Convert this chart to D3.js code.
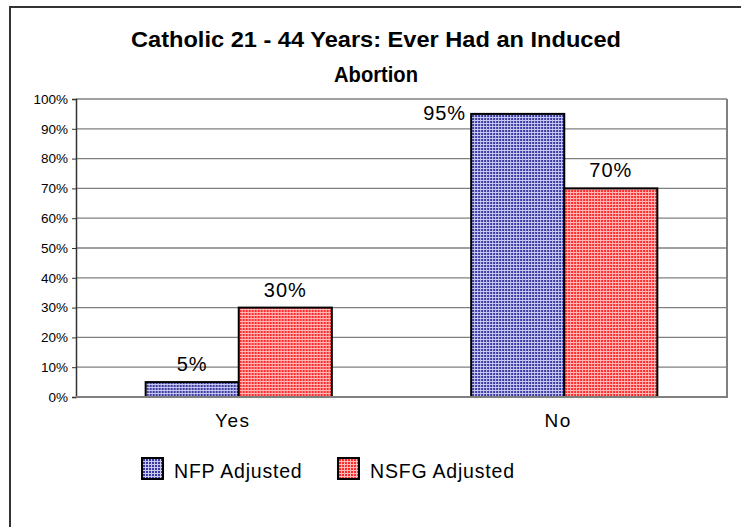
<!DOCTYPE html>
<html><head><meta charset="utf-8">
<script src="https://cdn.jsdelivr.net/npm/d3@7"></script>
<style>body{margin:0;background:#fff}svg{display:block}text{font-family:"Liberation Sans",Arial,sans-serif}</style>
</head><body>
<script>
const categories = ["Yes", "No"];
const seriesNames = ["NFP Adjusted", "NSFG Adjusted"];
const nfpValues = [5, 95];
const nsfgValues = [30, 70];
const yTicks = [0,10,20,30,40,50,60,70,80,90,100];
const titleLines = ["Catholic 21 - 44 Years: Ever Had an Induced", "Abortion"];

const W = 741, H = 527;
const svg = d3.select("body").append("svg").attr("width", W).attr("height", H);
const defs = svg.append("defs");
function pat(id, base, line){
  const p = defs.append("pattern").attr("id", id).attr("patternUnits","userSpaceOnUse")
    .attr("width",3).attr("height",3);
  p.append("rect").attr("width",3).attr("height",3).attr("fill",base);
  p.append("rect").attr("width",3).attr("height",1).attr("fill",line);
  p.append("rect").attr("width",1).attr("height",3).attr("fill",line);
}
pat("pBlue", "#3A3AA0", "#C8C8F2");
pat("pRed", "#FF2A2A", "#FFB8B8");
const fills = ["url(#pBlue)", "url(#pRed)"];

// outer border
svg.append("rect").attr("x",10).attr("y",7).attr("width",W).attr("height",H)
  .attr("fill","none").attr("stroke","#333").attr("stroke-width",2);

// title
const tt = svg.append("text").attr("text-anchor","middle")
  .attr("font-weight","bold").attr("font-size",22).attr("fill","#000");
tt.selectAll("tspan").data(titleLines).join("tspan")
  .attr("x",376).attr("y",(d,i)=>47+i*35).text(d=>d)
  .attr("textLength",(d,i)=>i===0?490:84)
  .attr("lengthAdjust","spacingAndGlyphs");

const L = 76, R = 727, T = 99, B = 397;
const y = d3.scaleLinear().domain([0,100]).range([B,T]);
const x0 = d3.scaleBand().domain(categories).range([L,R]).paddingInner(0).paddingOuter(0);
const groupW = x0.bandwidth()*0.572;
const x1 = d3.scaleBand().domain(seriesNames).range([0,groupW]);

const g = svg.append("g");
g.selectAll("line.grid").data(yTicks).join("line").attr("class","grid")
  .attr("x1",L).attr("x2",R).attr("y1",d=>y(d)).attr("y2",d=>y(d))
  .attr("stroke","#808080").attr("stroke-width",1.3);
g.append("line").attr("x1",R).attr("x2",R).attr("y1",T).attr("y2",B).attr("stroke","#808080").attr("stroke-width",2);

// y axis
const yAxis = d3.axisLeft(y).tickValues(yTicks).tickFormat(d=>d+"%").tickSize(4).tickPadding(4);
const ya = svg.append("g").attr("transform",`translate(${L},0)`).call(yAxis);
ya.select(".domain").attr("stroke","#333").attr("stroke-width",1.5);
ya.selectAll(".tick line").attr("stroke","#333");
ya.selectAll(".tick text").attr("font-size",13.5).attr("font-family",'"Liberation Sans",Arial,sans-serif').attr("fill","#000");

// x labels
svg.selectAll("text.xl").data(categories).join("text").attr("class","xl")
  .attr("x",d=>x0(d)+x0.bandwidth()/2-6).attr("y",427).attr("text-anchor","middle")
  .attr("font-size",19).attr("letter-spacing",1.5).text(d=>d);

// bars
const rows = categories.map((c,i)=>({cat:c, vals:[nfpValues[i], nsfgValues[i]]}));
const groups = svg.selectAll("g.grp").data(rows).join("g").attr("class","grp")
  .attr("transform",d=>`translate(${x0(d.cat)+(x0.bandwidth()-groupW)/2},0)`);
groups.selectAll("rect").data(d=>d.vals.map((v,j)=>({v,j}))).join("rect")
  .attr("x",d=>x1(seriesNames[d.j])).attr("width",x1.bandwidth())
  .attr("y",d=>y(d.v)).attr("height",d=>B-y(d.v))
  .attr("fill",d=>fills[d.j]).attr("stroke","#000").attr("stroke-width",2);
svg.append("line").attr("x1",L).attr("x2",R+1).attr("y1",B).attr("y2",B).attr("stroke","#808080").attr("stroke-width",2);

// data labels
groups.selectAll("text").data(d=>d.vals.map((v,j)=>({v,j}))).join("text")
  .attr("font-size",20).attr("letter-spacing",1).attr("fill","#000")
  .each(function(d){
    const bx = x1(seriesNames[d.j]), by = y(d.v);
    const t = d3.select(this).text(d.v+"%");
    if (by - 30 < T) {
      t.attr("x",bx-5).attr("y",by+6).attr("text-anchor","end");
    } else {
      t.attr("x",bx+x1.bandwidth()/2).attr("y",by-11).attr("text-anchor","middle");
    }
  });

// legend
const lg = svg.append("g").selectAll("g").data(seriesNames).join("g")
  .attr("transform",(d,i)=>`translate(${142+i*196},458)`);
lg.append("rect").attr("width",21).attr("height",21).attr("fill",(d,i)=>fills[i])
  .attr("stroke","#000").attr("stroke-width",2);
lg.append("text").attr("x",32).attr("y",20).attr("font-size",19.5).attr("letter-spacing",0.8).text(d=>d);
</script>
</body></html>
